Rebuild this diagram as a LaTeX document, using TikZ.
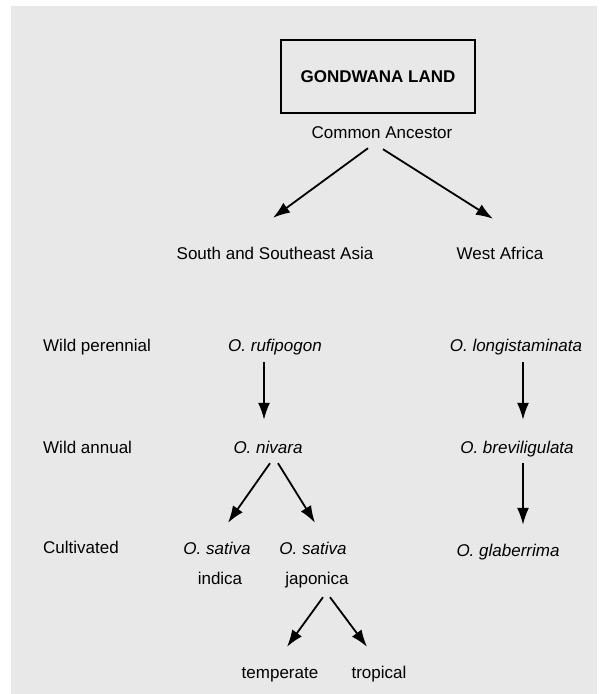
\documentclass[tikz,border=0pt]{standalone}
\usepackage{fontspec}
\setmainfont{Liberation Sans}
\usetikzlibrary{arrows.meta,calc}
\definecolor{bgray}{RGB}{232,232,232}
\begin{document}
\begin{tikzpicture}[x=1pt,y=-1pt,
  lbl/.style={font=\fontsize{17}{20}\selectfont, inner sep=0pt, text height=13pt, text depth=4pt},
  arr/.style={-{Latex[length=17pt,width=12pt]}, line width=1.8pt}]
\useasboundingbox (0,0) rectangle (600,694);
\fill[bgray] (11,6) rectangle (597,694);
\node[draw, line width=1.8pt, minimum width=194pt, minimum height=73pt, inner sep=0pt,
  font=\fontsize{17}{20}\selectfont\bfseries] (gond) at (378,76.5) {GONDWANA LAND};
\node[lbl] (ca) at (382,133.5) {Common Ancestor};
\node[lbl] (asia) at (275,254.5) {South and Southeast Asia};
\node[lbl] (wa) at (500,254.5) {West Africa};
\node[lbl, anchor=west] (wp) at (43,346.5) {Wild perennial};
\node[lbl, anchor=west] (wan) at (43,448.5) {Wild annual};
\node[lbl, anchor=west] (cul) at (43,548.5) {Cultivated};
\node[lbl] (rufi) at (275,346.5) {\itshape O. rufipogon};
\node[lbl] (longi) at (516,346.5) {\itshape O. longistaminata};
\node[lbl] (niv) at (268,448.5) {\itshape O. nivara};
\node[lbl] (brev) at (517,448.5) {\itshape O. breviligulata};
\node[lbl] (glab) at (508,551.5) {\itshape O. glaberrima};
\node[lbl] (sat1) at (217,549.5) {\itshape O. sativa};
\node[lbl] (ind) at (220,579.5) {indica};
\node[lbl] (sat2) at (313,549.5) {\itshape O. sativa};
\node[lbl] (jap) at (317,579.5) {japonica};
\node[lbl] (temp) at (280,673.5) {temperate};
\node[lbl] (trop) at (379,673.5) {tropical};
\draw[arr] ($(ca.south)+(-14,6)$) -- ($(asia.north)+(-2,-28)$);
\draw[arr] ($(ca.south)+(1,7)$) -- ($(wa.north)+(-7,-27)$);
\draw[arr] ($(rufi.south)+(-11,7)$) -- ($(niv.north)+(-4,-20)$);
\draw[arr] ($(longi.south)+(7,7)$) -- ($(brev.north)+(6,-20)$);
\draw[arr] ($(brev.south)+(6,6)$) -- ($(glab.north)+(15,-18)$);
\draw[arr] ($(niv.south)+(2,6)$) -- ($(sat1.north)+(11,-18)$);
\draw[arr] ($(niv.south)+(10,6)$) -- ($(sat2.north)+(2,-18)$);
\draw[arr] ($(jap.south)+(6,9)$) -- ($(temp.north)+(7,-18)$);
\draw[arr] ($(jap.south)+(13,9)$) -- ($(trop.north)+(-12,-18)$);
\end{tikzpicture}
\end{document}
